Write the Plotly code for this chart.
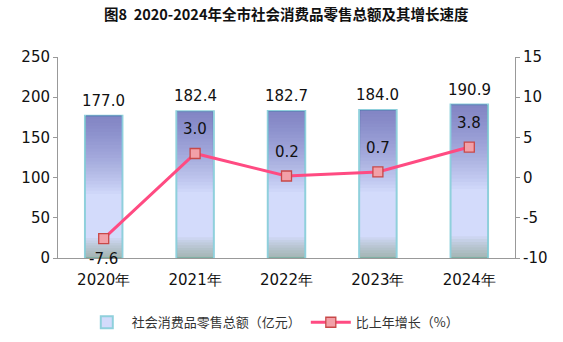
import plotly.graph_objects as go

years = ["2020年", "2021年", "2022年", "2023年", "2024年"]
sales = [177.0, 182.4, 182.7, 184.0, 190.9]
growth = [-7.6, 3.0, 0.2, 0.7, 3.8]
growth_text_pos = ["below", "above", "above", "above", "above"]
left_ticks = [0, 50, 100, 150, 200, 250]
right_ticks = [-10, -5, 0, 5, 10, 15]

fig = go.Figure()

fig.add_trace(go.Bar(
    x=years, y=sales, width=0.41, name="社会消费品零售总额（亿元）",
    marker=dict(color="#d3dbfb", line=dict(color="#8fd0dc", width=2)),
    hoverinfo="skip", yaxis="y",
))
# gradient layers (top purple)
n = 24
for i in range(n):
    f = 0.45 + 0.55 * i / n
    fig.add_trace(go.Bar(
        x=years, y=[v * (1 - f) for v in sales], base=[v * f for v in sales],
        width=0.39, marker=dict(color="rgba(95,95,175,0.034)", line=dict(width=0)),
        showlegend=False, hoverinfo="skip", yaxis="y",
    ))
# bottom greenish
for i in range(8):
    f = 0.015 + 0.018 * i
    fig.add_trace(go.Bar(
        x=years, y=[v * f for v in sales], base=[0] * len(sales),
        width=0.39, marker=dict(color="rgba(120,140,100,0.07)", line=dict(width=0)),
        showlegend=False, hoverinfo="skip", yaxis="y",
    ))

fig.add_trace(go.Scatter(
    x=years, y=growth, name="比上年增长（%）", mode="lines+markers",
    line=dict(color="#ff4b82", width=3),
    marker=dict(symbol="square", size=10, color="#f2a0a8", line=dict(color="#c84848", width=1.3)),
    yaxis="y2", hoverinfo="skip", cliponaxis=False,
))

annotations = []
for yr, v in zip(years, sales):
    annotations.append(dict(
        x=yr, y=v, xref="x", yref="y", text=f"{v:.1f}", showarrow=False,
        yshift=15, font=dict(size=15, color="#111", family="DejaVu Sans"),
    ))
for yr, g, pos in zip(years, growth, growth_text_pos):
    annotations.append(dict(
        x=yr, y=g, xref="x", yref="y2", text=f"{g:.1f}", showarrow=False,
        yshift=24 if pos == "above" else -20,
        font=dict(size=15, color="#111", family="DejaVu Sans"),
    ))
annotations.append(dict(
    x=0.5, y=1, xref="paper", yref="paper", xanchor="center", yanchor="middle",
    yshift=44, text="<b>图8  2020-2024年全市社会消费品零售总额及其增长速度</b>",
    showarrow=False, font=dict(size=14.5, color="#111", family="Noto Sans CJK SC"),
))

fig.update_layout(
    width=563, height=342, barmode="overlay",
    margin=dict(l=58, r=48, t=57, b=84, autoexpand=False),
    paper_bgcolor="white", plot_bgcolor="white",
    showlegend=True,
    legend=dict(orientation="h", x=0.47, xanchor="center", y=-0.32, yanchor="middle",
                font=dict(size=13, color="#333", family="Noto Sans CJK SC"),
                itemwidth=40, tracegroupgap=0),
    xaxis=dict(showline=True, linecolor="#999", linewidth=1, ticks="", ticklabelstandoff=8,
               tickfont=dict(size=15, color="#111", family="DejaVu Sans")),
    yaxis=dict(range=[0, 250], tickvals=left_ticks, ticktext=[str(t) for t in left_ticks],
               showgrid=False, showline=True, linecolor="#999",
               ticks="outside", ticklen=4, tickcolor="#999", zeroline=False,
               tickfont=dict(size=15, color="#111", family="DejaVu Sans")),
    yaxis2=dict(range=[-10, 15], tickvals=right_ticks, ticktext=[str(t) for t in right_ticks],
                overlaying="y", side="right", showgrid=False,
                showline=True, linecolor="#999", ticks="outside", ticklen=4, tickcolor="#999",
                zeroline=False, tickfont=dict(size=15, color="#111", family="DejaVu Sans")),
    annotations=annotations,
)

fig.write_html("out.html")
